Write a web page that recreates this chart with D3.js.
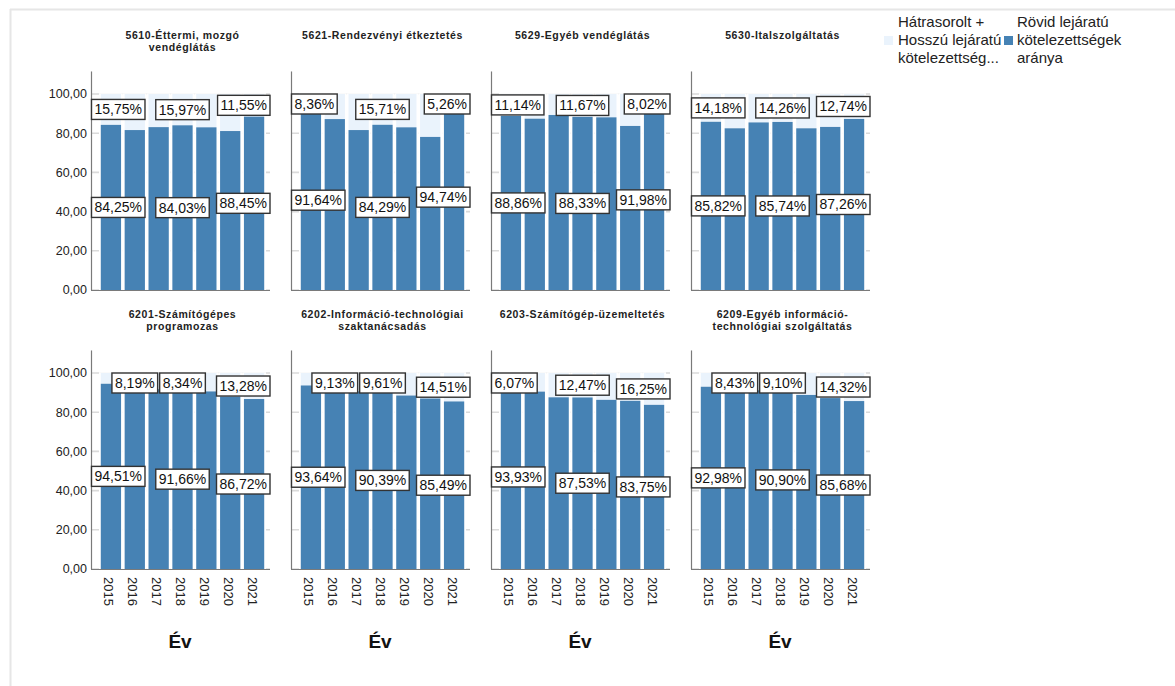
<!DOCTYPE html>
<html><head><meta charset="utf-8">
<script src="https://cdn.jsdelivr.net/npm/d3@7/dist/d3.min.js"></script>
<style>
html,body{margin:0;padding:0;background:#fff;}
svg{display:block;font-family:"Liberation Sans",Arial,sans-serif;}
</style></head>
<body><svg id="c" width="1175" height="686"></svg>
<script>
// ---------- data ----------
const years = ["2015","2016","2017","2018","2019","2020","2021"];
const panelTitles = [
  ["5610-Éttermi, mozgó","vendéglátás"],
  ["5621-Rendezvényi étkeztetés"],
  ["5629-Egyéb vendéglátás"],
  ["5630-Italszolgáltatás"],
  ["6201-Számítógépes","programozas"],
  ["6202-Információ-technológiai","szaktanácsadás"],
  ["6203-Számítógép-üzemeltetés"],
  ["6209-Egyéb információ-","technológiai szolgáltatás"]
];
// Rövid lejáratú kötelezettségek aránya (%), per panel, per year
const shortTerm5610 = [84.25, 81.6, 83.1, 84.03, 83.0, 81.1, 88.45];
const shortTerm5621 = [91.64, 87.2, 81.6, 84.29, 83.0, 78.1, 94.74];
const shortTerm5629 = [88.86, 87.4, 89.3, 88.33, 88.1, 83.7, 91.98];
const shortTerm5630 = [85.82, 82.5, 85.5, 85.74, 82.5, 83.2, 87.26];
const shortTerm6201 = [94.51, 91.81, 91.7, 91.66, 90.6, 88.0, 86.72];
const shortTerm6202 = [93.64, 90.87, 90.6, 90.39, 88.5, 87.0, 85.49];
const shortTerm6203 = [93.93, 90.5, 87.6, 87.53, 86.3, 85.8, 83.75];
const shortTerm6209 = [92.98, 91.57, 91.2, 90.90, 88.8, 87.2, 85.68];
const shortTermShare = [shortTerm5610, shortTerm5621, shortTerm5629, shortTerm5630,
                        shortTerm6201, shortTerm6202, shortTerm6203, shortTerm6209];
// which years carry a value label
const upperLabelYears = [[0,3,6],[0,3,6],[0,3,6],[0,3,6],[1,3,6],[1,3,6],[0,3,6],[1,3,6]];
const lowerLabelYears = [0,3,6];
const yTicks = [0,20,40,60,80,100];
const legendLight = ["Hátrasorolt +","Hosszú lejáratú","kötelezettség..."];
const legendDark = ["Rövid lejáratú","kötelezettségek","aránya"];
const xTitle = "Év";

// ---------- style ----------
const BLUE = "#4682b4", LIGHT = "#eaf3fc", GRID = "#dadada", AXIS = "#7a7a7a";
const svg = d3.select("#c");

// outer frame
svg.append("line").attr("x1",10).attr("x2",1175).attr("y1",9.5).attr("y2",9.5).attr("stroke","#e6e6e6").attr("stroke-width",2);
svg.append("line").attr("x1",10.5).attr("x2",10.5).attr("y1",9).attr("y2",686).attr("stroke","#e6e6e6").attr("stroke-width",2);

const fmt = v => d3.format(".2f")(v).replace(".", ",");
const colW = 200, rowH = 279;
const axisX0 = 91, plotW = 179;

shortTermShare.forEach((vals, p) => {
  const col = p % 4, row = Math.floor(p / 4);
  const ax = axisX0 + col * colW;
  const y = d3.scaleLinear().domain([0,100]).range([290 + row*rowH, 94 + row*rowH]);
  const x = d3.scaleBand().domain(years).range([ax + 8, ax + 175]).paddingInner(0.15).paddingOuter(0.075);
  const g = svg.append("g");

  // gridlines
  g.selectAll("line.grid").data(yTicks).join("line")
    .attr("x1", ax).attr("x2", ax + plotW)
    .attr("y1", d => y(d)).attr("y2", d => y(d))
    .attr("stroke", GRID).attr("stroke-width", 1.6);

  // white column background (gaps)
  g.selectAll("rect.bg").data(years).join("rect")
    .attr("x", d => x(d) - x.step()*x.paddingInner()/2)
    .attr("width", x.step())
    .attr("y", y(100) - 0.8).attr("height", y(0) - y(100) + 0.8)
    .attr("fill", "#fff");

  // light segment
  g.selectAll("rect.light").data(vals).join("rect")
    .attr("x", (d,i) => x(years[i])).attr("width", x.bandwidth())
    .attr("y", y(100)).attr("height", d => y(d) - y(100))
    .attr("fill", LIGHT);
  // blue segment
  g.selectAll("rect.blue").data(vals).join("rect")
    .attr("x", (d,i) => x(years[i])).attr("width", x.bandwidth())
    .attr("y", d => y(d)).attr("height", d => y(0) - y(d))
    .attr("fill", BLUE);

  // axes
  g.append("line").attr("x1", ax+0.5).attr("x2", ax+0.5).attr("y1", y(0)).attr("y2", y(111.5)).attr("stroke", AXIS).attr("stroke-width",1.2);
  g.append("line").attr("x1", ax).attr("x2", ax + plotW).attr("y1", y(0)+0.5).attr("y2", y(0)+0.5).attr("stroke", AXIS).attr("stroke-width",1.2);

  // title
  const tt = g.append("text").attr("text-anchor","middle").attr("font-size",10.5).attr("font-weight","bold")
    .attr("letter-spacing","0.6px").attr("fill","#222");
  panelTitles[p].forEach((line, li) => {
    tt.append("tspan").attr("x", ax + 91.5).attr("y", 38.5 + row*rowH + li*12).text(line);
  });

  // y tick labels
  if (col === 0) {
    g.selectAll("text.yt").data(yTicks).join("text")
      .attr("x", 87).attr("y", d => y(d)).attr("dy","0.35em")
      .attr("text-anchor","end").attr("font-size",12.5).attr("fill","#222")
      .text(d => fmt(d));
  }
  // x tick labels & title
  if (row === 1) {
    g.selectAll("text.xt").data(years).join("text")
      .attr("transform", d => `translate(${x(d) + x.bandwidth()/2 - 2},${y(0) + 8}) rotate(90)`)
      .attr("dy","0.35em").attr("font-size",13).attr("fill","#222")
      .text(d => d);
    g.append("text").attr("x", ax + 89).attr("y", 648).attr("text-anchor","middle")
      .attr("font-size",19).attr("font-weight","bold").attr("fill","#111").text(xTitle);
  }

  // value labels
  const boxH = 20;
  function label(cx, cy, txt) {
    const t = g.append("text").attr("font-size",14).attr("fill","#111").attr("text-anchor","middle").attr("dy","0.35em").text(txt);
    const w = t.node().getComputedTextLength() + 6;
    let left = cx - w/2;
    left = Math.max(ax + 0.5, Math.min(ax + plotW - w, left));
    let top = cy - boxH/2;
    top = Math.max(y(100), top);
    g.insert("rect", () => t.node())
      .attr("x", left).attr("y", top).attr("width", w).attr("height", boxH)
      .attr("fill","#fff").attr("stroke","#333").attr("stroke-width",1.4);
    t.attr("x", left + w/2).attr("y", top + boxH/2);
  }
  upperLabelYears[p].forEach(i => {
    const v = vals[i];
    label(x(years[i]) + x.bandwidth()/2, (y(100) + y(v))/2, fmt(100 - v) + "%");
  });
  lowerLabelYears.forEach(i => {
    const v = vals[i];
    label(x(years[i]) + x.bandwidth()/2, (y(v) + y(0))/2, fmt(v) + "%");
  });
});

// legend
const lg = svg.append("g").attr("font-size",15).attr("fill","#222");
lg.append("rect").attr("x",884).attr("y",36).attr("width",9).attr("height",9).attr("fill",LIGHT);
legendLight.forEach((s,i) => lg.append("text").attr("x",898).attr("y",27 + i*18).text(s));
lg.append("rect").attr("x",1004).attr("y",36).attr("width",9).attr("height",9).attr("fill",BLUE);
legendDark.forEach((s,i) => lg.append("text").attr("x",1017).attr("y",27 + i*18).text(s));
</script>
</body></html>
